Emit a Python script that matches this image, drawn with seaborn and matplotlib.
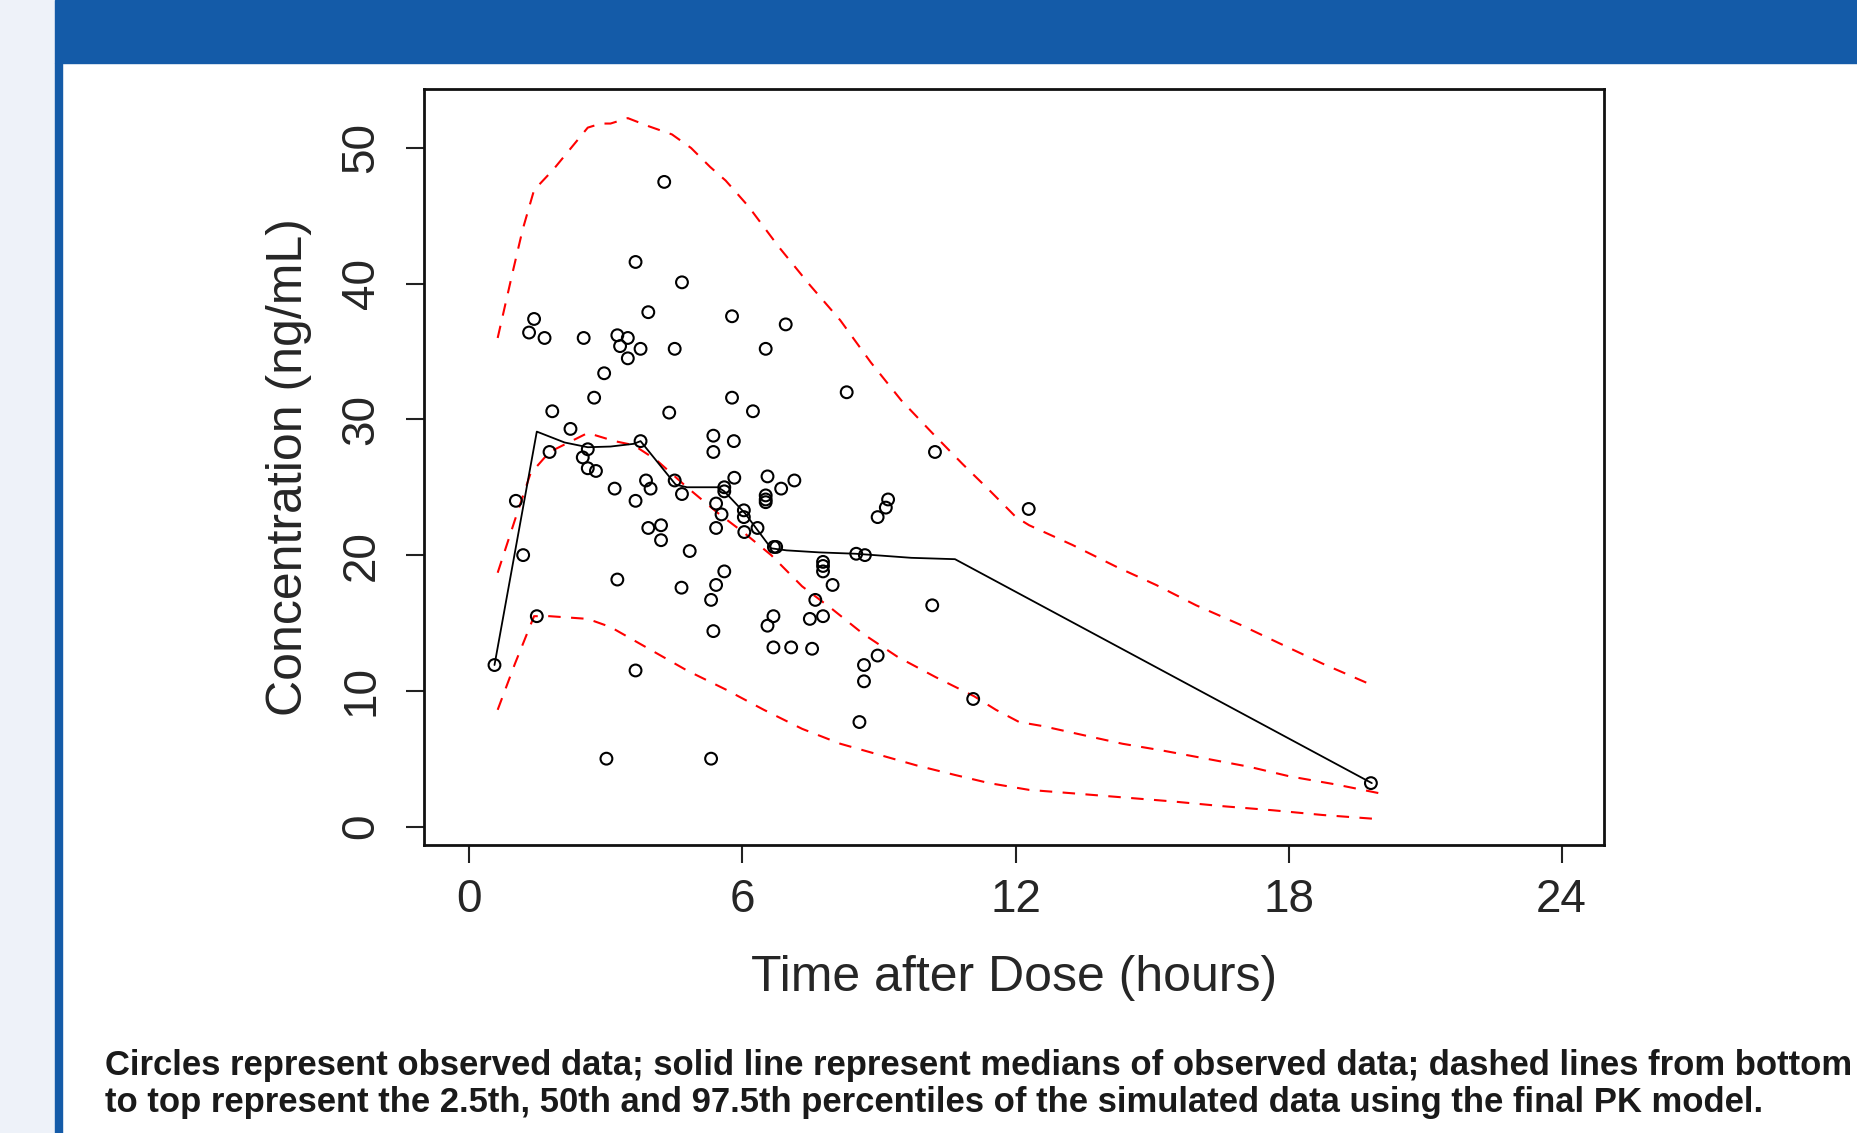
import pandas as pd
import matplotlib
matplotlib.use('Agg')
import matplotlib.pyplot as plt
from matplotlib.patches import Rectangle
import seaborn as sns

# observed concentrations (circles)
obs_time = [0.55, 1.02, 1.18, 1.31, 1.42, 1.48, 1.65, 1.76, 1.82, 2.22,
            2.49, 2.51, 2.60, 2.60, 2.74, 2.78, 2.96, 3.01, 3.19, 3.25,
            3.25, 3.31, 3.48, 3.48, 3.65, 3.65, 3.65, 3.76, 3.76, 3.88,
            3.93, 3.93, 3.98, 4.21, 4.21, 4.28, 4.39, 4.51, 4.51, 4.67,
            4.67, 4.66, 4.84, 5.31, 5.31, 5.36, 5.36, 5.36, 5.42, 5.42,
            5.42, 5.54, 5.60, 5.60, 5.60, 5.77, 5.77, 5.81, 5.82, 6.03,
            6.03, 6.04, 6.23, 6.33, 6.51, 6.51, 6.51, 6.51, 6.55, 6.55,
            6.68, 6.68, 6.69, 6.74, 6.85, 6.95, 7.07, 7.14, 7.48, 7.53,
            7.60, 7.77, 7.77, 7.77, 7.77, 7.98, 8.29, 8.50, 8.57, 8.67,
            8.67, 8.69, 8.97, 8.97, 9.15, 9.20, 10.17, 10.23, 11.07, 12.29,
            19.81]
obs_conc = [11.9, 24.0, 20.0, 36.4, 37.4, 15.5, 36.0, 27.6, 30.6, 29.3,
            27.2, 36.0, 27.8, 26.4, 31.6, 26.2, 33.4, 5.0, 24.9, 18.2,
            36.2, 35.4, 36.0, 34.5, 41.6, 24.0, 11.5, 35.2, 28.4, 25.5,
            37.9, 22.0, 24.9, 22.2, 21.1, 47.5, 30.5, 35.2, 25.5, 40.1,
            24.5, 17.6, 20.3, 16.7, 5.0, 28.8, 27.6, 14.4, 23.8, 22.0,
            17.8, 23.0, 18.8, 25.0, 24.7, 37.6, 31.6, 28.4, 25.7, 23.3,
            22.8, 21.7, 30.6, 22.0, 35.2, 24.4, 24.1, 23.9, 25.8, 14.8,
            15.5, 13.2, 20.6, 20.6, 24.9, 37.0, 13.2, 25.5, 15.3, 13.1,
            16.7, 19.5, 19.2, 18.8, 15.5, 17.8, 32.0, 20.1, 7.7, 11.9,
            10.7, 20.0, 12.6, 22.8, 23.5, 24.1, 16.3, 27.6, 9.4, 23.4,
            3.2]

# median of observed data (solid line)
med_time = [0.55, 1.48, 2.09, 2.60, 3.10, 3.61, 3.76, 4.53, 4.78, 5.46,
            5.60, 6.05, 6.63, 6.97, 7.69, 8.49, 9.71, 10.67, 19.83]
med_conc = [11.9, 29.1, 28.3, 27.95, 28.0, 28.2, 28.4, 25.2, 25.0, 25.0,
            24.7, 23.1, 20.5, 20.35, 20.2, 20.1, 19.8, 19.7, 3.2]

# simulated percentiles (dashed lines)
p975_time = [0.62, 0.96, 1.17, 1.42, 1.84, 2.60, 2.89, 3.10, 3.48, 3.94,
             4.45, 4.87, 5.29, 5.63, 6.13, 6.80, 7.48, 8.15, 8.82, 9.49,
             10.17, 10.84, 11.42, 12.01, 12.30, 13.25, 14.21, 15.09, 15.97, 16.92,
             17.80, 18.75, 19.78]
p975_conc = [36.0, 41.0, 44.0, 46.9, 48.4, 51.5, 51.8, 51.8, 52.2, 51.6,
             51.0, 50.0, 48.6, 47.6, 45.7, 42.7, 39.9, 37.3, 34.2, 31.4,
             29.0, 26.7, 24.8, 22.8, 22.2, 20.75, 19.15, 17.8, 16.3, 14.9,
             13.5, 12.0, 10.5]

p50_time = [0.62, 1.00, 1.34, 1.76, 2.60, 3.19, 3.61, 4.11, 4.78, 5.46,
            6.05, 6.63, 7.31, 7.98, 8.65, 9.41, 10.25, 11.09, 11.57, 12.08,
            12.60, 13.47, 14.35, 15.23, 16.19, 17.14, 18.02, 19.04, 20.0]
p50_conc = [18.7, 22.6, 26.0, 27.6, 29.0, 28.4, 28.1, 27.0, 25.0, 23.1,
            21.6, 20.0, 17.7, 16.0, 14.2, 12.5, 11.0, 9.6, 8.6, 7.7,
            7.4, 6.75, 6.1, 5.6, 5.0, 4.4, 3.7, 3.1, 2.45]

p025_time = [0.62, 1.00, 1.42, 1.76, 2.60, 3.10, 3.94, 4.78, 5.63, 6.47,
             7.31, 8.15, 8.99, 9.83, 10.67, 11.42, 12.30, 13.25, 14.35, 15.45,
             16.55, 17.65, 18.75, 20.0]
p025_conc = [8.6, 12.0, 15.5, 15.5, 15.3, 14.7, 13.1, 11.5, 10.1, 8.6,
             7.2, 6.1, 5.3, 4.5, 3.8, 3.2, 2.7, 2.45, 2.15, 1.85,
             1.5, 1.2, 0.85, 0.54]

x_ticks = [0, 6, 12, 18, 24]
y_ticks = [0, 10, 20, 30, 40, 50]

caption = ('Circles represent observed data; solid line represent medians of observed data; dashed lines from bottom\n'
           'to top represent the 2.5th, 50th and 97.5th percentiles of the simulated data using the final PK model.')

sns.set_style('ticks')
plt.rcParams['font.family'] = ['Liberation Sans', 'DejaVu Sans']

fig = plt.figure(figsize=(18.57, 11.33), dpi=100)

# page decoration around the chart
fig.patches.append(Rectangle((0, 0), 0.0297, 1, transform=fig.transFigure, color='#EEF2F9', zorder=0))
fig.patches.append(Rectangle((0.0297, 0.9444), 0.9703, 0.0556, transform=fig.transFigure, color='#145BA8', zorder=0))
fig.patches.append(Rectangle((0.0297, 0), 0.0038, 0.9444, transform=fig.transFigure, color='#145BA8', zorder=0))

ax = fig.add_axes([0.2283, 0.2542, 0.6354, 0.6673])

obs = pd.DataFrame({'time': obs_time, 'conc': obs_conc})
med = pd.DataFrame({'time': med_time, 'conc': med_conc})

# 2.5th, 50th, 97.5th percentiles of simulations
for tt, cc in [(p025_time, p025_conc), (p50_time, p50_conc), (p975_time, p975_conc)]:
    sns.lineplot(x=tt, y=cc, ax=ax, sort=False, estimator=None, errorbar=None,
                 color='red', linewidth=1.5, dashes=(6, 5))

sns.lineplot(data=med, x='time', y='conc', ax=ax, sort=False, estimator=None, errorbar=None,
             color='black', linewidth=1.3)
sns.scatterplot(data=obs, x='time', y='conc', ax=ax, marker='o', s=72,
                facecolor='none', edgecolor='black', linewidth=1.5, zorder=5)

ax.set_xlim(-1.0, 24.93)
ax.set_ylim(-1.36, 54.35)
ax.set_xticks(x_ticks)
ax.set_yticks(y_ticks)
ax.tick_params(axis='both', direction='out', length=13, width=1.5, labelsize=33, color='#222222')
ax.tick_params(axis='x', pad=11)
ax.tick_params(axis='y', pad=16)
for lab in ax.get_yticklabels():
    lab.set_rotation(90)
    lab.set_verticalalignment('center')

for sp in ax.spines.values():
    sp.set_visible(True)
    sp.set_linewidth(2.0)
    sp.set_color('#111111')

ax.set_xlabel('Time after Dose (hours)', fontsize=36)
ax.set_ylabel('Concentration (ng/mL)', fontsize=36)
ax.xaxis.set_label_coords(0.5, -0.145)
ax.yaxis.set_label_coords(-0.095, 0.5)

fig.text(0.0565, 0.0433, caption, fontsize=24.9, fontweight='bold', color='#1a1a1a',
         ha='left', va='center', linespacing=1.15)

plt.savefig('out.png', dpi=100)
